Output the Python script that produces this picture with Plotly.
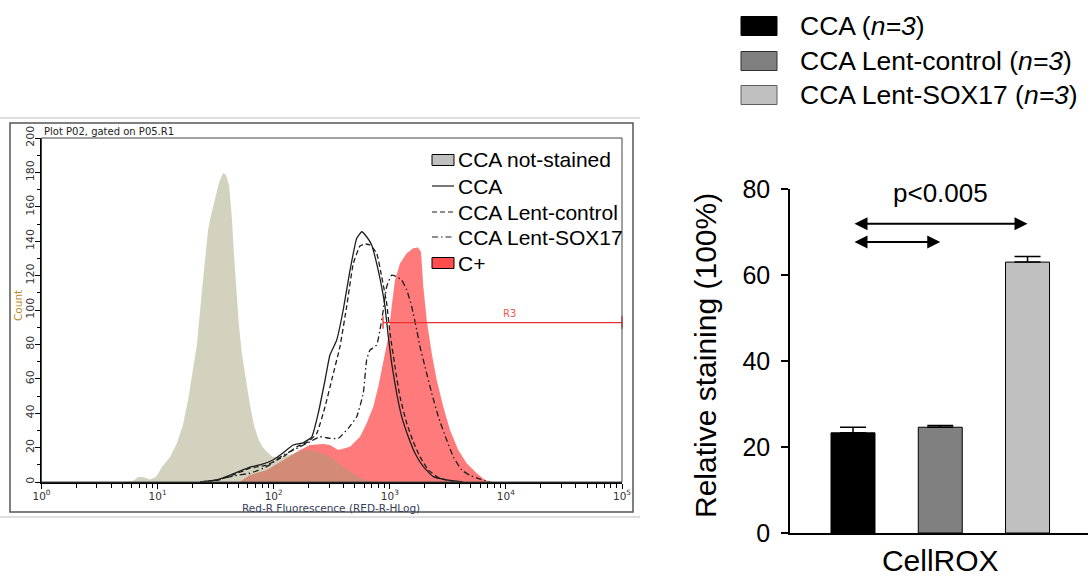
import plotly.graph_objects as go

W, H = 1089, 579


def px(x):
    return x / W


def py(y):
    return 1 - y / H


# ---------------- flow cytometry overlay (Red-R fluorescence vs count) ----------------
NOT_STAINED_F = [4.75, 6.14, 6.78, 7.48, 8.6, 9.69, 10.9, 12.8, 14.7, 16.5, 18.3, 20.2, 21.8,
                 24.0, 25.6, 27.2, 28.8, 31.2, 33.8, 36.6, 38.8, 41.2, 43.5, 45.5, 47.8, 50.2,
                 53.3, 58.3, 62.5, 67.6, 73.2, 79.3, 87.5, 98.6, 118, 144, 175, 214, 261, 318,
                 387, 472, 576, 703]
NOT_STAINED_N = [0, 0.6, 2.9, 2.9, 1.5, 2.9, 8.7, 14.5, 22.7, 33, 47.7, 65, 79.7,
                 110, 129, 146.5, 155, 164, 174, 179.7, 178.5, 172.7, 155, 132, 111.6, 91,
                 74, 56.4, 44.8, 33, 25.6, 20.9, 17.4, 14.5, 14.5, 16.3, 18, 18.6, 16.9, 14,
                 9.3, 5.2, 1.7, 0]

CCA_F = [23.2, 32.5, 44.6, 62.5, 76.2, 98.6, 120, 147, 179, 213, 242, 277, 305, 349, 397,
         454, 519, 573, 632, 698, 771, 851, 909, 971, 1038, 1146, 1266, 1443, 1648, 1944,
         2371, 3090, 4268]
CCA_N = [0, 1.2, 4.7, 8.7, 9.9, 12.8, 16.9, 21.5, 22.7, 26.3, 40, 59.3, 73.8, 82.6, 100,
         123, 141.7, 145.5, 142.6, 137.8, 127, 113.5, 102, 84.5, 69, 51.6, 38, 26.3, 16.7,
         8.9, 3.1, 1.2, 0]

LENT_CONTROL_F = [23.2, 32.5, 44.6, 62.5, 87.1, 121, 158, 199, 235, 277, 316, 372, 425, 485,
                  554, 611, 675, 771, 851, 940, 1005, 1109, 1224, 1400, 1593, 1820, 2146,
                  2705, 3769]
LENT_CONTROL_N = [0, 0.9, 4.1, 8, 9.9, 14.7, 20.5, 23.4, 28.3, 43.8, 59.3, 78.7, 102, 127,
                  137.2, 138.4, 137.8, 133, 119.4, 104, 86.4, 67, 49.6, 34.1, 23.4, 14.7, 7,
                  2.1, 0]

LENT_SOX17_F = [23.2, 32.5, 44.6, 62.5, 87.1, 121, 169, 205, 250, 305, 360, 439, 519, 591,
                632, 675, 771, 823, 879, 940, 1038, 1146, 1266, 1400, 1544, 1706, 1820, 2011,
                2296, 2618, 3090, 3523, 4160, 4909, 5984, 7296]
LENT_SOX17_N = [0, 1.2, 3.5, 5.1, 8.9, 15.7, 20.5, 23.4, 26.3, 25.4, 25.4, 31.2, 38, 51.6,
                71, 76.7, 79.7, 88.4, 100, 113.5, 120.3, 119.4, 117.4, 111.6, 102, 88.4, 78.7,
                67, 51.6, 38, 24.4, 14.7, 7, 3.8, 1.7, 0]

C_PLUS_F = [51.3, 62.5, 87.1, 121, 169, 205, 267, 305, 360, 454, 554, 632, 721, 796, 879,
            971, 1038, 1109, 1224, 1400, 1593, 1750, 1857, 1944, 2079, 2296, 2535, 2890,
            3298, 3890, 4592, 5606, 6607, 7590]
C_PLUS_N = [0.3, 4.1, 7, 12.8, 18.6, 21.5, 22.1, 21.5, 18.6, 20.5, 26.3, 34.1, 43.8, 55.4,
            69, 84.5, 102, 117.4, 127.1, 133, 135.9, 136.3, 133.7, 113.5, 94.2, 74.8, 59.3,
            43.8, 30.2, 18.6, 10.9, 5.1, 1.2, 0]

HIST_LABELS = ["CCA not-stained", "CCA", "CCA Lent-control", "CCA Lent-SOX17", "C+"]

GATE_NAME = "R3"
GATE_F = [874, 100000]
GATE_COUNT = 92.7

HIST_TITLE = "Plot P02, gated on P05.R1"
HIST_XTITLE = "Red-R Fluorescence (RED-R-HLog)"
HIST_YTITLE = "Count"
DECADES = [0, 1, 2, 3, 4, 5]

# ---------------- CellROX relative staining bars ----------------
BAR_GROUPS = ["CCA", "CCA Lent-control", "CCA Lent-SOX17"]
BAR_N = [3, 3, 3]
BAR_VALUES = [23.3, 24.6, 63.0]
BAR_ERRORS = [1.3, 0.4, 1.3]
BAR_CATEGORY = "CellROX"
BAR_YTITLE = "Relative staining (100%)"
P_VALUE_TEXT = "p<0.005"
COMPARISONS = [(0, 2), (0, 1)]

BAR_COLORS = ["#000000", "#808080", "#c0c0c0"]
BAR_EDGES = ["#000000", "#303030", "#606060"]

SANS = "Liberation Sans, Arial, sans-serif"
FCS_FONT = "DejaVu Sans, Verdana, sans-serif"
LINE_COLOR = "#1e1e1e"

fig = go.Figure()

# filled histograms: positive control first, unstained overlaid semi-transparently
fig.add_trace(go.Scatter(x=C_PLUS_F, y=C_PLUS_N, mode="lines", line=dict(width=0),
                         fill="tozeroy", fillcolor="rgb(255,122,122)",
                         xaxis="x", yaxis="y", hoverinfo="skip"))
fig.add_trace(go.Scatter(x=NOT_STAINED_F, y=NOT_STAINED_N, mode="lines", line=dict(width=0),
                         fill="tozeroy", fillcolor="rgba(160,159,116,0.47)",
                         xaxis="x", yaxis="y", hoverinfo="skip"))

line_styles = ["solid", "5px,3px", "6px,3px,1.5px,3px"]
for f, n, dash in zip([CCA_F, LENT_CONTROL_F, LENT_SOX17_F],
                      [CCA_N, LENT_CONTROL_N, LENT_SOX17_N], line_styles):
    fig.add_trace(go.Scatter(x=f, y=n, mode="lines",
                             line=dict(color=LINE_COLOR, width=1.3, dash=dash, shape="spline",
                                       smoothing=0.4),
                             xaxis="x", yaxis="y", hoverinfo="skip"))

# gate marker
fig.add_trace(go.Scatter(x=GATE_F, y=[GATE_COUNT] * len(GATE_F), mode="lines+markers",
                         line=dict(color="#e8322f", width=1.2),
                         marker=dict(symbol="line-ns", size=9,
                                     line=dict(color="#e8322f", width=1.3)),
                         cliponaxis=False, xaxis="x", yaxis="y", hoverinfo="skip"))

# bars with upper error whiskers
fig.add_trace(go.Bar(x=list(range(len(BAR_VALUES))), y=BAR_VALUES, width=0.504,
                     marker=dict(color=BAR_COLORS, line=dict(color="#000000", width=1)),
                     error_y=dict(type="data", symmetric=False, array=BAR_ERRORS,
                                  arrayminus=[0] * len(BAR_ERRORS), color="#000000",
                                  thickness=1.5, width=13),
                     xaxis="x2", yaxis="y2", hoverinfo="skip"))

shapes = []
annotations = []

# instrument-export frame around the histogram
shapes.append(dict(type="line", xref="paper", yref="paper", x0=0, x1=px(640),
                   y0=py(118), y1=py(118), line=dict(color="#d4d4d4", width=1.5)))
shapes.append(dict(type="line", xref="paper", yref="paper", x0=0, x1=px(640),
                   y0=py(517), y1=py(517), line=dict(color="#d4d4d4", width=1.5)))
shapes.append(dict(type="rect", xref="paper", yref="paper", x0=px(10), x1=px(633),
                   y0=py(512), y1=py(123), line=dict(color="#555555", width=1.5)))
shapes.append(dict(type="rect", xref="paper", yref="paper", x0=px(41.5), x1=px(622),
                   y0=py(482), y1=py(138), line=dict(color="#444444", width=1)))

annotations.append(dict(text=HIST_TITLE, xref="paper", yref="paper", x=px(42), y=py(131),
                        xanchor="left", yanchor="middle", showarrow=False,
                        font=dict(family=FCS_FONT, size=10, color="#222222")))
annotations.append(dict(text=HIST_XTITLE, xref="paper", yref="paper", x=px(331), y=py(508),
                        xanchor="center", yanchor="middle", showarrow=False,
                        font=dict(family=FCS_FONT, size=10.5, color="#34405a")))
annotations.append(dict(text=HIST_YTITLE, xref="paper", yref="paper", x=px(18), y=py(306),
                        xanchor="center", yanchor="middle", showarrow=False, textangle=-90,
                        font=dict(family=FCS_FONT, size=10.5, color="#c08a1e")))
# annotation x on a log axis is given in decades
annotations.append(dict(text=GATE_NAME, x=4.03, y=GATE_COUNT, xref="x", yref="y",
                        yshift=9, showarrow=False,
                        font=dict(family=FCS_FONT, size=10, color="#ee5a50")))

# histogram legend
hist_rows = [160, 186, 212, 237, 263]
for i, (label, row) in enumerate(zip(HIST_LABELS, hist_rows)):
    if i == 0 or i == 4:
        fill = "#c0c0c0" if i == 0 else "#ff4d4d"
        shapes.append(dict(type="rect", xref="paper", yref="paper", x0=px(432), x1=px(454),
                           y0=py(row + 5.5), y1=py(row - 5.5), fillcolor=fill,
                           line=dict(color="#000000", width=1)))
    else:
        shapes.append(dict(type="line", xref="paper", yref="paper", x0=px(432), x1=px(454),
                           y0=py(row), y1=py(row),
                           line=dict(color=LINE_COLOR, width=1.2, dash=line_styles[i - 1])))
    annotations.append(dict(text=label, xref="paper", yref="paper", x=px(456), y=py(row),
                            xanchor="left", yanchor="middle", showarrow=False,
                            font=dict(family=SANS, size=21, color="#000000")))

# bar chart legend
bar_rows = [26, 61, 95]
for label, n, color, edge, row in zip(BAR_GROUPS, BAR_N, BAR_COLORS, BAR_EDGES, bar_rows):
    shapes.append(dict(type="rect", xref="paper", yref="paper", x0=px(741), x1=px(777),
                       y0=py(row + 9.5), y1=py(row - 9.5), fillcolor=color,
                       line=dict(color=edge, width=1)))
    annotations.append(dict(text=f"{label} (<i>n={n}</i>)", xref="paper", yref="paper",
                            x=px(798), y=py(row), xanchor="left", yanchor="middle",
                            showarrow=False, font=dict(family=SANS, size=26.5, color="#000000")))

# significance arrows
arrow_levels = [71.9, 67.7]
for (a, b), level in zip(COMPARISONS, arrow_levels):
    annotations.append(dict(x=b, y=level, ax=a, ay=level, xref="x2", yref="y2",
                            axref="x2", ayref="y2", text="", showarrow=True,
                            arrowhead=2, startarrowhead=2, arrowside="end+start",
                            arrowsize=1.3, startarrowsize=1.3, arrowwidth=2,
                            arrowcolor="#000000", standoff=0, startstandoff=0))
annotations.append(dict(text=P_VALUE_TEXT, x=1, y=79.1, xref="x2", yref="y2",
                        xanchor="center", yanchor="middle", showarrow=False,
                        font=dict(family=SANS, size=26, color="#000000")))
annotations.append(dict(text=BAR_YTITLE, xref="paper", yref="paper", x=px(705), y=py(356),
                        xanchor="center", yanchor="middle", showarrow=False, textangle=-90,
                        font=dict(family=SANS, size=30, color="#000000")))

decade_vals = [10 ** d for d in DECADES]
decade_text = [f"10<sup>{d}</sup>" for d in DECADES]

fig.update_layout(
    width=W, height=H, margin=dict(l=0, r=0, t=0, b=0, autoexpand=False),
    paper_bgcolor="white", plot_bgcolor="rgba(0,0,0,0)", showlegend=False,
    shapes=shapes, annotations=annotations,
    xaxis=dict(type="log", domain=[px(41.5), px(622)], range=[0, 5], anchor="y",
               automargin=False, tickmode="array", tickvals=decade_vals,
               ticktext=decade_text, ticklabelstandoff=-2,
               ticks="outside", ticklen=5, tickwidth=1, tickcolor="#000000",
               minor=dict(ticks="outside", ticklen=4, dtick="D1", tickcolor="#000000",
                          tickwidth=1, showgrid=False),
               showline=True, linecolor="#000000", linewidth=2,
               showgrid=False, zeroline=False,
               tickfont=dict(family=FCS_FONT, size=10.5, color="#333333")),
    yaxis=dict(domain=[py(482), py(138)], range=[0, 200], anchor="x", automargin=False,
               tick0=0, dtick=20, ticks="outside", ticklen=5, tickwidth=1,
               tickcolor="#000000", tickangle=-90, ticklabelstandoff=-4,
               minor=dict(ticks="outside", ticklen=3, dtick=10, tickcolor="#000000"),
               showline=True, linecolor="#000000", linewidth=2,
               showgrid=False, zeroline=False,
               tickfont=dict(family=FCS_FONT, size=11, color="#333333")),
    xaxis2=dict(domain=[px(790), px(1088)], range=[-0.722, 2.693], anchor="y2",
                automargin=False, tickmode="array", tickvals=[1], ticktext=[BAR_CATEGORY],
                ticks="", ticklabelstandoff=0,
                showline=True, linecolor="#000000", linewidth=1.5,
                showgrid=False, zeroline=False,
                tickfont=dict(family=SANS, size=30, color="#000000")),
    yaxis2=dict(domain=[py(533), py(189)], range=[0, 80], anchor="x2", automargin=False,
                tick0=0, dtick=20, ticks="outside", ticklen=7, tickwidth=1.5,
                tickcolor="#000000", ticklabelstandoff=6,
                showline=True, linecolor="#000000", linewidth=1.5,
                showgrid=False, zeroline=False,
                tickfont=dict(family=SANS, size=25, color="#000000")),
)

fig.write_html("out.html")
